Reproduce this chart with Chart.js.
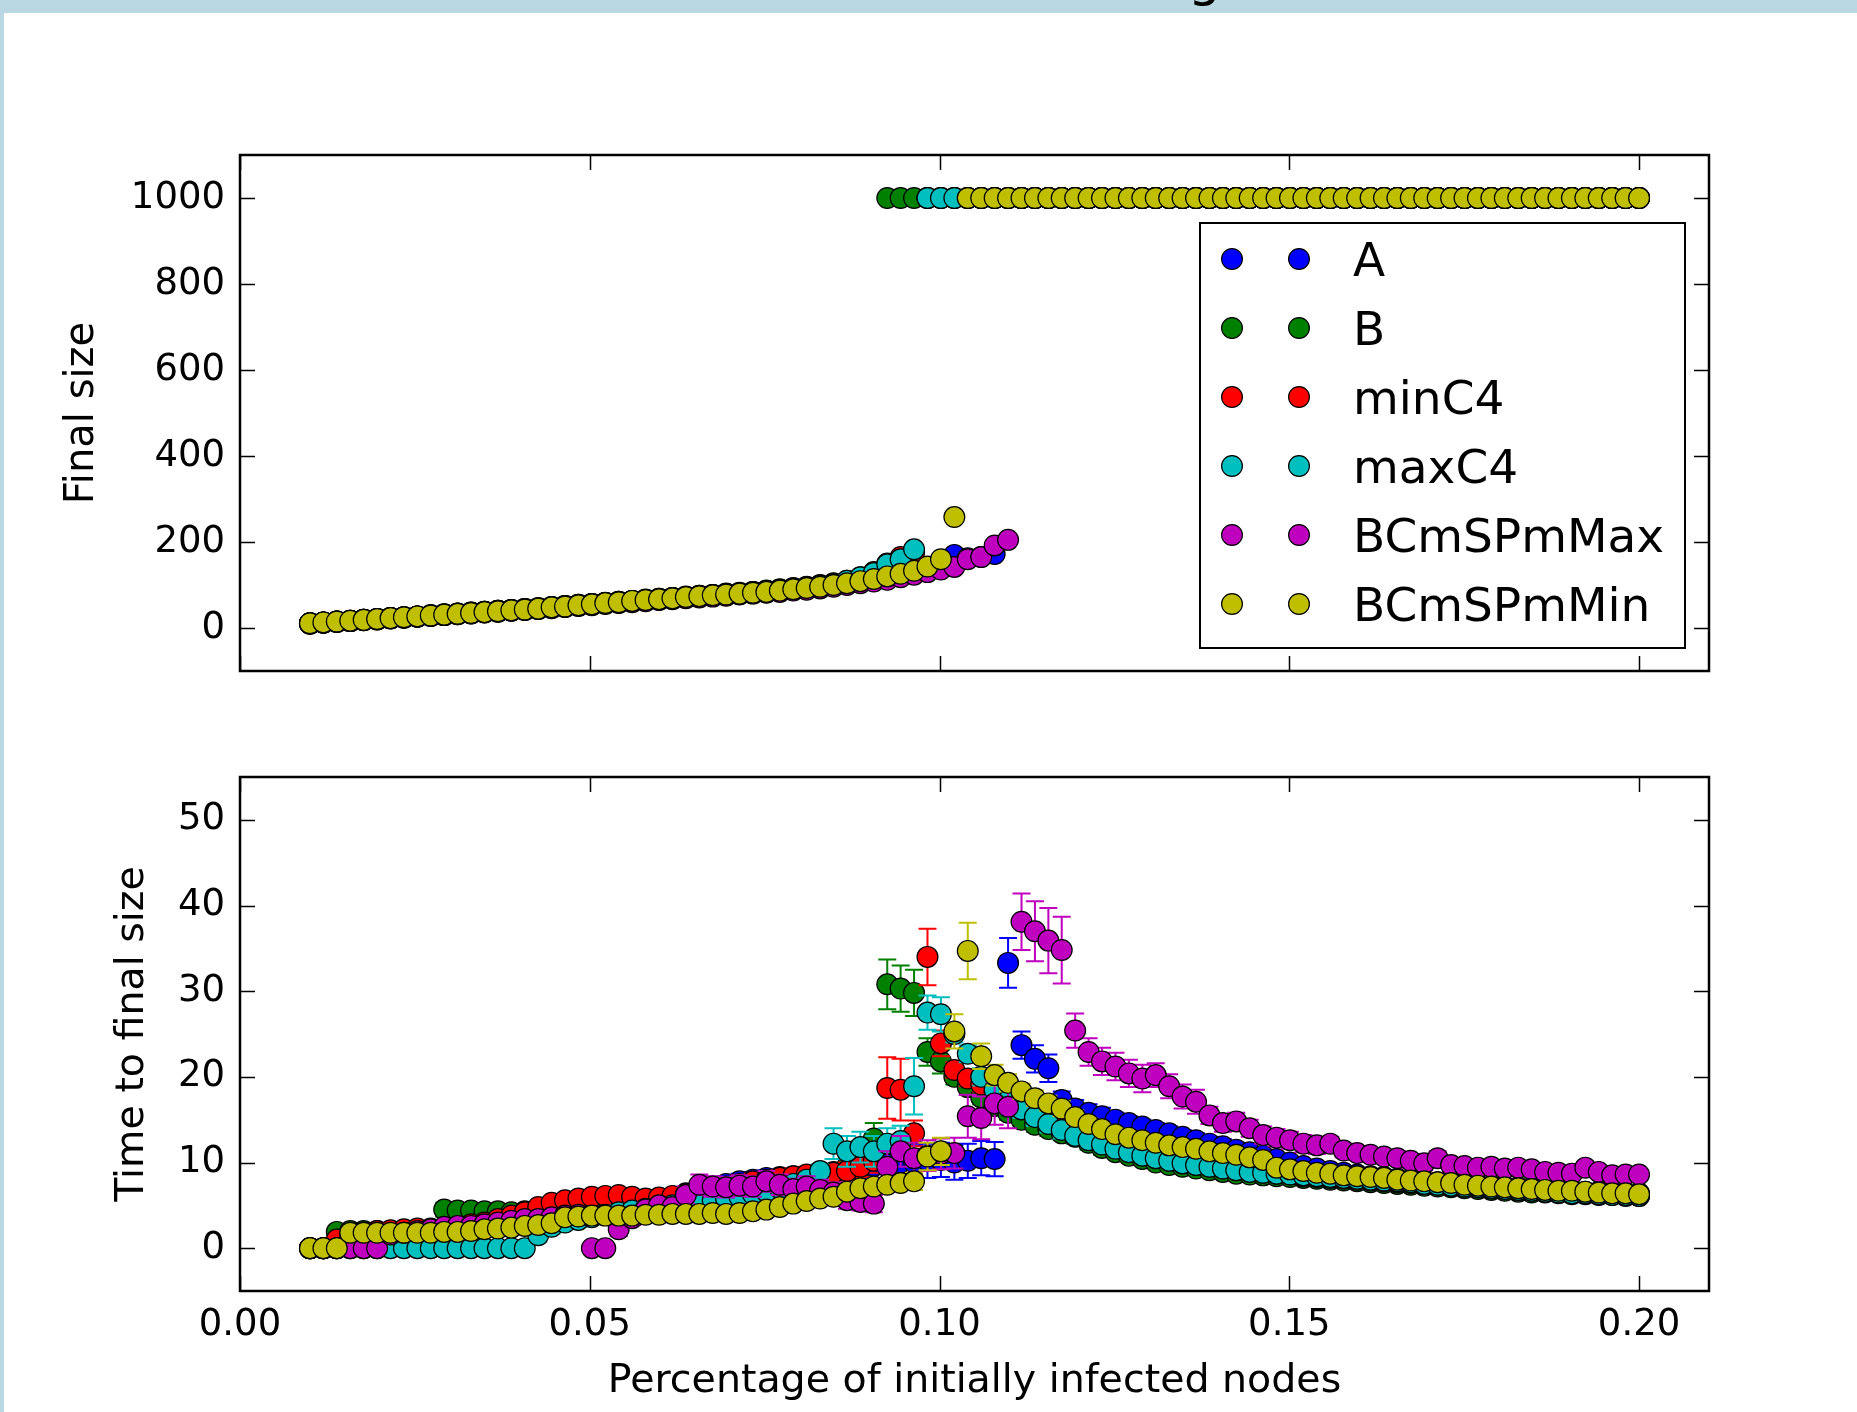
<!DOCTYPE html>
<html>
<head>
<meta charset="utf-8">
<title>Final size and time to final size</title>
<script src="https://cdn.jsdelivr.net/npm/chart.js@4.4.1/dist/chart.umd.min.js"></script>
<style>
  html, body { margin: 0; padding: 0; background: #fff; }
  body { width: 1857px; height: 1412px; position: relative; overflow: hidden; font-family: 'DejaVu Sans', sans-serif; }
  .strip-top { position: absolute; left: 0; top: 0; width: 1857px; height: 13px; background: #bad8e4; }
  .strip-left { position: absolute; left: 0; top: 0; width: 4px; height: 1412px; background: #bad8e4; }
  .cut-text { position: absolute; left: 1188px; top: -49px; font-size: 52px; line-height: 52px; color: #000; }
  canvas { position: absolute; left: 0; }
  #finalChart { top: 0; width: 1857px; height: 720px; }
  #timeChart { top: 720px; width: 1857px; height: 692px; }
</style>
</head>
<body>
<div class="strip-top"></div>
<div class="strip-left"></div>
<div class="cut-text">g</div>
<canvas id="finalChart" width="1857" height="720"></canvas>
<canvas id="timeChart" width="1857" height="692"></canvas>
<script>
// share of initially infected nodes (100 runs, 0.01 .. 0.20)
var X_VALUES = [
  0.01, 0.01192, 0.01384, 0.01576, 0.01768, 0.0196, 0.02152, 0.02343, 0.02535, 0.02727,
  0.02919, 0.03111, 0.03303, 0.03495, 0.03687, 0.03879, 0.04071, 0.04263, 0.04455, 0.04646,
  0.04838, 0.0503, 0.05222, 0.05414, 0.05606, 0.05798, 0.0599, 0.06182, 0.06374, 0.06566,
  0.06758, 0.06949, 0.07141, 0.07333, 0.07525, 0.07717, 0.07909, 0.08101, 0.08293, 0.08485,
  0.08677, 0.08869, 0.09061, 0.09253, 0.09444, 0.09636, 0.09828, 0.1002, 0.10212, 0.10404,
  0.10596, 0.10788, 0.1098, 0.11172, 0.11364, 0.11556, 0.11747, 0.11939, 0.12131, 0.12323,
  0.12515, 0.12707, 0.12899, 0.13091, 0.13283, 0.13475, 0.13667, 0.13859, 0.14051, 0.14242,
  0.14434, 0.14626, 0.14818, 0.1501, 0.15202, 0.15394, 0.15586, 0.15778, 0.1597, 0.16162,
  0.16354, 0.16545, 0.16737, 0.16929, 0.17121, 0.17313, 0.17505, 0.17697, 0.17889, 0.18081,
  0.18273, 0.18465, 0.18657, 0.18848, 0.1904, 0.19232, 0.19424, 0.19616, 0.19808, 0.2
];

var SERIES_NAMES = ['A', 'B', 'minC4', 'maxC4', 'BCmSPmMax', 'BCmSPmMin'];
var SERIES_COLORS = ['#0000ff', '#008000', '#ff0000', '#00bfbf', '#bf00bf', '#bfbf00'];

var X_TICKS = [0, 0.05, 0.10, 0.15, 0.20];
var FINAL_TICKS = [0, 200, 400, 600, 800, 1000];
var TIME_TICKS = [0, 10, 20, 30, 40, 50];

//--------------
//- FINAL SIZE -
//--------------
var FINAL_A = [
  10, 12, 14, 16, 18, 20, 22, 24, 26, 28,
  30, 32, 34, 36, 38, 40, 42, 44, 47, 49,
  52, 54, 57, 59, 62, 64, 66, 68, 71, 73,
  75, 77, 79, 81, 83, 86, 89, 92, 95, 99,
  103, 107, 112, 117, 124, 130, 140, 155, 170, 162,
  165, 172, 1000, 1000, 1000, 1000, 1000, 1000, 1000, 1000,
  1000, 1000, 1000, 1000, 1000, 1000, 1000, 1000, 1000, 1000,
  1000, 1000, 1000, 1000, 1000, 1000, 1000, 1000, 1000, 1000,
  1000, 1000, 1000, 1000, 1000, 1000, 1000, 1000, 1000, 1000,
  1000, 1000, 1000, 1000, 1000, 1000, 1000, 1000, 1000, 1000
];
var FINAL_B = [
  11, 13, 15, 17, 19, 21, 23, 25, 27, 30,
  32, 34, 36, 38, 40, 42, 44, 46, 49, 51,
  54, 56, 58, 61, 63, 65, 68, 70, 72, 75,
  77, 79, 81, 84, 86, 89, 92, 95, 98, 102,
  106, 114, 126, 1000, 1000, 1000, 1000, 1000, 1000, 1000,
  1000, 1000, 1000, 1000, 1000, 1000, 1000, 1000, 1000, 1000,
  1000, 1000, 1000, 1000, 1000, 1000, 1000, 1000, 1000, 1000,
  1000, 1000, 1000, 1000, 1000, 1000, 1000, 1000, 1000, 1000,
  1000, 1000, 1000, 1000, 1000, 1000, 1000, 1000, 1000, 1000,
  1000, 1000, 1000, 1000, 1000, 1000, 1000, 1000, 1000, 1000
];
var FINAL_MINC4 = [
  11, 13, 15, 17, 19, 21, 23, 25, 27, 29,
  32, 34, 36, 38, 40, 42, 44, 46, 49, 51,
  54, 56, 59, 61, 63, 66, 68, 70, 73, 75,
  77, 80, 82, 84, 87, 90, 93, 96, 100, 104,
  110, 118, 130, 150, 165, 175, 1000, 1000, 1000, 1000,
  1000, 1000, 1000, 1000, 1000, 1000, 1000, 1000, 1000, 1000,
  1000, 1000, 1000, 1000, 1000, 1000, 1000, 1000, 1000, 1000,
  1000, 1000, 1000, 1000, 1000, 1000, 1000, 1000, 1000, 1000,
  1000, 1000, 1000, 1000, 1000, 1000, 1000, 1000, 1000, 1000,
  1000, 1000, 1000, 1000, 1000, 1000, 1000, 1000, 1000, 1000
];
var FINAL_MAXC4 = [
  11, 13, 15, 17, 19, 21, 23, 25, 27, 29,
  31, 33, 35, 38, 40, 42, 44, 46, 48, 51,
  53, 56, 58, 60, 63, 65, 67, 70, 72, 74,
  77, 79, 81, 84, 86, 89, 92, 95, 99, 103,
  110, 118, 128, 148, 160, 183, 1000, 1000, 1000, 1000,
  1000, 1000, 1000, 1000, 1000, 1000, 1000, 1000, 1000, 1000,
  1000, 1000, 1000, 1000, 1000, 1000, 1000, 1000, 1000, 1000,
  1000, 1000, 1000, 1000, 1000, 1000, 1000, 1000, 1000, 1000,
  1000, 1000, 1000, 1000, 1000, 1000, 1000, 1000, 1000, 1000,
  1000, 1000, 1000, 1000, 1000, 1000, 1000, 1000, 1000, 1000
];
var FINAL_BCMAX = [
  10, 12, 14, 16, 18, 20, 22, 24, 26, 28,
  30, 32, 34, 36, 38, 40, 42, 44, 46, 49,
  51, 53, 56, 58, 60, 62, 65, 67, 69, 71,
  73, 75, 78, 80, 82, 84, 87, 89, 92, 96,
  100, 104, 108, 112, 118, 124, 130, 136, 142, 160,
  165, 192, 205, 1000, 1000, 1000, 1000, 1000, 1000, 1000,
  1000, 1000, 1000, 1000, 1000, 1000, 1000, 1000, 1000, 1000,
  1000, 1000, 1000, 1000, 1000, 1000, 1000, 1000, 1000, 1000,
  1000, 1000, 1000, 1000, 1000, 1000, 1000, 1000, 1000, 1000,
  1000, 1000, 1000, 1000, 1000, 1000, 1000, 1000, 1000, 1000
];
var FINAL_BCMIN = [
  11, 13, 15, 17, 19, 21, 23, 25, 27, 29,
  31, 33, 35, 37, 39, 41, 43, 45, 48, 50,
  53, 55, 58, 60, 63, 65, 67, 69, 72, 74,
  76, 78, 80, 82, 84, 87, 90, 93, 96, 100,
  104, 109, 114, 120, 126, 133, 143, 160, 258, 1000,
  1000, 1000, 1000, 1000, 1000, 1000, 1000, 1000, 1000, 1000,
  1000, 1000, 1000, 1000, 1000, 1000, 1000, 1000, 1000, 1000,
  1000, 1000, 1000, 1000, 1000, 1000, 1000, 1000, 1000, 1000,
  1000, 1000, 1000, 1000, 1000, 1000, 1000, 1000, 1000, 1000,
  1000, 1000, 1000, 1000, 1000, 1000, 1000, 1000, 1000, 1000
];

//------------------------
//- TIME TO FINAL SIZE   -
//------------------------
var TIME_A = [
  0, 0, 0, 0.5, 1.0, 1.4, 1.6, 1.8, 2.0, 2.2,
  2.4, 2.6, 2.8, 3.0, 3.2, 3.4, 3.6, 3.8, 4.0, 4.2,
  4.4, 4.6, 4.8, 5.0, 5.2, 5.4, 5.7, 6.0, 6.4, 6.8,
  7.2, 7.5, 7.8, 8.0, 8.2, 8.3, 8.4, 8.5, 8.6, 8.8,
  9.0, 9.3, 9.6, 9.8, 10.0, 10.0, 10.2, 10.3, 10.0, 10.2,
  10.5, 10.4, 33.3, 23.7, 22.1, 21.0, 17.3, 16.3, 15.8, 15.4,
  15.0, 14.6, 14.2, 13.8, 13.4, 13.0, 12.6, 12.2, 11.9, 11.5,
  11.2, 10.8, 10.4, 10.0, 9.6, 9.3, 9.0, 8.8, 8.6, 8.4,
  8.3, 8.1, 8.0, 7.9, 7.7, 7.6, 7.5, 7.4, 7.3, 7.2,
  7.1, 7.0, 6.9, 6.8, 6.7, 6.6, 6.6, 6.5, 6.4, 6.4
];
var ERR_A = [
  0, 0, 0, 0.4, 0.5, 0.5, 0.5, 0.5, 0.5, 0.5,
  0.5, 0.5, 0.5, 0.5, 0.5, 0.5, 0.5, 0.5, 0.5, 0.5,
  0.6, 0.6, 0.6, 0.6, 0.6, 0.6, 0.6, 0.6, 0.6, 0.6,
  0.9, 0.9, 0.9, 0.9, 0.9, 0.9, 0.9, 0.9, 0.9, 0.9,
  1.0, 1.2, 1.5, 2.0, 2.0, 2.0, 2.0, 2.0, 2.0, 2.0,
  2.0, 2.0, 2.9, 1.6, 1.6, 1.6, 1.0, 1.0, 1.0, 1.0,
  0.8, 0.8, 0.8, 0.8, 0.8, 0.8, 0.8, 0.8, 0.8, 0.8,
  0.6, 0.6, 0.6, 0.6, 0.6, 0.6, 0.6, 0.6, 0.6, 0.6,
  0.4, 0.4, 0.4, 0.4, 0.4, 0.4, 0.4, 0.4, 0.4, 0.4,
  0.4, 0.4, 0.4, 0.4, 0.4, 0.4, 0.4, 0.4, 0.4, 0.4
];
var TIME_B = [
  0, 0, 1.9, 2.0, 2.0, 2.0, 2.0, 2.1, 2.1, 2.2,
  4.5, 4.4, 4.4, 4.3, 4.3, 4.2, 4.3, 4.2, 4.0, 4.2,
  4.4, 4.6, 4.8, 5.0, 5.2, 5.4, 5.6, 5.8, 6.0, 6.3,
  6.6, 6.9, 7.2, 7.5, 7.8, 8.0, 8.2, 8.4, 8.6, 8.9,
  9.5, 11.0, 12.8, 30.8, 30.3, 29.8, 22.9, 21.8, 20.0, 18.8,
  17.6, 16.6, 15.8, 15.0, 14.4, 13.9, 13.4, 13.0, 12.3, 11.7,
  11.2, 10.8, 10.4, 10.0, 9.7, 9.5, 9.3, 9.1, 8.9, 8.7,
  8.6, 8.5, 8.4, 8.3, 8.2, 8.1, 8.0, 7.9, 7.8, 7.7,
  7.6, 7.5, 7.4, 7.3, 7.2, 7.1, 7.0, 6.9, 6.8, 6.7,
  6.6, 6.5, 6.5, 6.4, 6.3, 6.3, 6.2, 6.2, 6.1, 6.1
];
var ERR_B = [
  0, 0, 0.4, 0.4, 0.4, 0.4, 0.4, 0.4, 0.4, 0.4,
  0.8, 0.8, 0.8, 0.8, 0.8, 0.8, 0.8, 0.8, 0.8, 0.8,
  0.8, 0.8, 0.8, 0.8, 0.8, 0.8, 0.8, 0.8, 0.8, 0.8,
  0.9, 0.9, 0.9, 0.9, 0.9, 0.9, 0.9, 0.9, 0.9, 0.9,
  1.2, 1.5, 1.8, 2.9, 2.7, 2.7, 1.6, 1.4, 0.9, 0.9,
  0.8, 0.8, 0.8, 0.8, 0.8, 0.8, 0.8, 0.8, 0.8, 0.8,
  0.4, 0.4, 0.4, 0.4, 0.4, 0.4, 0.4, 0.4, 0.4, 0.4,
  0.4, 0.4, 0.4, 0.4, 0.4, 0.4, 0.4, 0.4, 0.4, 0.4,
  0.4, 0.4, 0.4, 0.4, 0.4, 0.4, 0.4, 0.4, 0.4, 0.4,
  0.4, 0.4, 0.4, 0.4, 0.4, 0.4, 0.4, 0.4, 0.4, 0.4
];
var TIME_MINC4 = [
  0, 0, 1.0, 1.5, 1.8, 2.0, 2.1, 2.2, 2.3, 2.3,
  2.4, 2.5, 2.8, 3.0, 3.4, 3.8, 4.2, 4.8, 5.3, 5.6,
  5.8, 6.0, 6.1, 6.2, 6.0, 5.8, 5.9, 6.1, 6.3, 6.6,
  7.0, 7.2, 7.5, 7.8, 8.0, 8.2, 8.4, 8.6, 8.7, 8.8,
  9.0, 9.5, 10.2, 18.7, 18.5, 13.4, 34.0, 23.9, 20.8, 19.8,
  19.1, 18.2, 17.2, 16.3, 15.5, 14.8, 14.2, 13.6, 12.9, 12.3,
  11.8, 11.3, 10.9, 10.5, 10.2, 9.9, 9.7, 9.5, 9.3, 9.1,
  9.0, 8.8, 8.7, 8.6, 8.4, 8.3, 8.2, 8.1, 8.0, 7.9,
  7.8, 7.7, 7.6, 7.5, 7.4, 7.3, 7.2, 7.1, 7.0, 6.9,
  6.8, 6.7, 6.6, 6.5, 6.4, 6.4, 6.3, 6.3, 6.2, 6.2
];
var ERR_MINC4 = [
  0, 0, 0.5, 0.5, 0.5, 0.5, 0.5, 0.5, 0.5, 0.5,
  0.5, 0.5, 0.5, 0.5, 0.5, 0.5, 0.5, 0.5, 0.5, 0.5,
  0.8, 0.8, 0.8, 0.8, 0.8, 0.8, 0.8, 0.8, 0.8, 0.8,
  0.9, 0.9, 0.9, 0.9, 0.9, 0.9, 0.9, 0.9, 0.9, 0.9,
  1.0, 1.2, 1.4, 3.6, 3.6, 1.5, 3.3, 1.5, 0.9, 0.9,
  0.8, 0.8, 0.8, 0.8, 0.8, 0.8, 0.8, 0.8, 0.8, 0.8,
  0.4, 0.4, 0.4, 0.4, 0.4, 0.4, 0.4, 0.4, 0.4, 0.4,
  0.4, 0.4, 0.4, 0.4, 0.4, 0.4, 0.4, 0.4, 0.4, 0.4,
  0.4, 0.4, 0.4, 0.4, 0.4, 0.4, 0.4, 0.4, 0.4, 0.4,
  0.4, 0.4, 0.4, 0.4, 0.4, 0.4, 0.4, 0.4, 0.4, 0.4
];
var TIME_MAXC4 = [
  0, 0, 0, 0, 0, 0, 0, 0, 0, 0,
  0, 0, 0, 0, 0, 0, 0, 1.5, 2.5, 3.0,
  3.3, 3.6, 3.9, 4.2, 4.4, 4.6, 4.8, 5.0, 5.2, 5.4,
  5.6, 5.8, 6.0, 6.3, 6.6, 7.0, 7.5, 8.0, 9.0, 12.2,
  11.3, 11.8, 11.3, 12.2, 12.5, 18.9, 27.5, 27.3, 25.0, 22.7,
  20.0, 18.5, 17.2, 16.2, 15.3, 14.5, 13.8, 13.1, 12.6, 12.1,
  11.6, 11.2, 10.8, 10.5, 10.2, 9.9, 9.7, 9.5, 9.3, 9.1,
  8.9, 8.8, 8.7, 8.6, 8.5, 8.4, 8.3, 8.2, 8.1, 8.0,
  7.9, 7.8, 7.7, 7.5, 7.4, 7.3, 7.2, 7.1, 7.0, 6.9,
  6.8, 6.7, 6.6, 6.5, 6.4, 6.4, 6.3, 6.2, 6.2, 6.1
];
var ERR_MAXC4 = [
  0.2, 0.2, 0.2, 0.2, 0.2, 0.2, 0.2, 0.2, 0.2, 0.2,
  0.2, 0.2, 0.2, 0.2, 0.2, 0.2, 0.2, 0.8, 0.8, 0.8,
  0.8, 0.8, 0.8, 0.8, 0.8, 0.8, 0.8, 0.8, 0.8, 0.8,
  0.8, 0.8, 0.8, 0.8, 0.8, 0.8, 0.8, 0.8, 0.8, 1.8,
  1.8, 1.8, 1.8, 1.8, 1.8, 3.3, 2.0, 2.0, 1.0, 1.0,
  1.0, 1.0, 1.0, 1.0, 1.0, 1.0, 1.0, 0.4, 0.4, 0.4,
  0.4, 0.4, 0.4, 0.4, 0.4, 0.4, 0.4, 0.4, 0.4, 0.4,
  0.4, 0.4, 0.4, 0.4, 0.4, 0.4, 0.4, 0.4, 0.4, 0.4,
  0.4, 0.4, 0.4, 0.4, 0.4, 0.4, 0.4, 0.4, 0.4, 0.4,
  0.4, 0.4, 0.4, 0.4, 0.4, 0.4, 0.4, 0.4, 0.4, 0.4
];
var TIME_BCMAX = [
  0, 0, 0, 0, 0, 0, 1.6, 1.8, 2.0, 2.2,
  2.5, 2.6, 2.6, 2.8, 3.0, 3.2, 3.4, 3.4, 3.6, 3.8,
  3.9, 0, 0, 2.2, 3.5, 4.5, 5.0, 4.8, 6.2, 7.4,
  7.2, 7.1, 7.3, 7.2, 7.8, 7.4, 6.9, 7.2, 6.8, 6.5,
  5.6, 5.4, 5.2, 9.5, 11.3, 10.5, 10.8, 11.0, 11.1, 15.4,
  15.2, 16.9, 16.5, 38.1, 37.0, 35.9, 34.8, 25.4, 22.9, 21.8,
  21.2, 20.4, 19.8, 20.2, 18.9, 17.7, 17.1, 15.5, 14.6, 14.8,
  14.0, 13.2, 12.9, 12.6, 12.2, 12.0, 12.2, 11.4, 11.1, 10.9,
  10.7, 10.5, 10.2, 9.9, 10.5, 9.7, 9.6, 9.4, 9.5, 9.3,
  9.4, 9.2, 8.9, 8.8, 8.7, 9.4, 8.9, 8.5, 8.6, 8.6
];
var ERR_BCMAX = [
  0.3, 0.3, 0.3, 0.3, 0.3, 0.3, 0.6, 0.6, 0.6, 0.6,
  0.6, 0.6, 0.6, 0.6, 0.6, 0.6, 0.6, 0.6, 0.6, 0.6,
  0.6, 0.4, 0.4, 0.8, 0.8, 0.8, 0.8, 0.8, 1.0, 1.2,
  1.2, 1.2, 1.2, 1.2, 1.2, 1.2, 1.2, 1.2, 1.2, 1.2,
  1.0, 1.0, 1.0, 1.8, 1.8, 1.8, 1.8, 1.8, 1.8, 2.5,
  2.5, 2.5, 2.5, 3.3, 3.5, 3.8, 3.9, 2.0, 1.6, 1.6,
  1.6, 1.6, 1.6, 1.4, 1.4, 1.4, 1.4, 1.0, 1.0, 1.0,
  1.0, 1.0, 1.0, 1.0, 1.0, 1.0, 0.8, 0.8, 0.8, 0.8,
  0.8, 0.8, 0.8, 0.8, 0.8, 0.8, 0.6, 0.6, 0.6, 0.6,
  0.6, 0.6, 0.6, 0.6, 0.6, 0.6, 0.6, 0.6, 0.6, 0.6
];
var TIME_BCMIN = [
  0, 0, 0, 1.8, 1.8, 1.8, 1.8, 1.8, 1.8, 1.8,
  1.9, 1.9, 2.0, 2.2, 2.3, 2.4, 2.6, 2.7, 2.9, 3.6,
  3.7, 3.8, 3.8, 3.8, 3.8, 3.9, 3.9, 4.0, 4.0, 4.0,
  4.1, 4.0, 4.1, 4.3, 4.5, 4.8, 5.2, 5.5, 5.8, 6.0,
  6.6, 7.0, 7.2, 7.4, 7.6, 7.8, 10.7, 11.3, 25.3, 34.7,
  22.4, 20.2, 19.3, 18.3, 17.5, 16.9, 16.3, 15.3, 14.5, 13.9,
  13.3, 12.9, 12.6, 12.3, 12.0, 11.8, 11.6, 11.3, 11.1, 10.9,
  10.6, 10.3, 9.4, 9.2, 9.0, 8.8, 8.7, 8.5, 8.4, 8.3,
  8.2, 8.0, 7.9, 7.8, 7.7, 7.6, 7.4, 7.3, 7.2, 7.1,
  7.0, 6.9, 6.8, 6.7, 6.7, 6.6, 6.5, 6.4, 6.4, 6.3
];
var ERR_BCMIN = [
  0, 0, 0, 0.4, 0.4, 0.4, 0.4, 0.4, 0.4, 0.4,
  0.4, 0.4, 0.4, 0.4, 0.4, 0.4, 0.4, 0.4, 0.4, 0.4,
  0.5, 0.5, 0.5, 0.5, 0.5, 0.5, 0.5, 0.5, 0.5, 0.5,
  0.6, 0.6, 0.6, 0.6, 0.6, 0.6, 0.6, 0.6, 0.6, 0.6,
  0.6, 0.6, 0.6, 0.6, 0.8, 1.0, 1.6, 1.6, 2.0, 3.3,
  1.5, 1.2, 1.0, 0.9, 0.9, 0.9, 0.9, 0.8, 0.7, 0.7,
  0.7, 0.7, 0.7, 0.7, 0.7, 0.7, 0.7, 0.7, 0.7, 0.7,
  0.5, 0.5, 0.5, 0.5, 0.5, 0.5, 0.5, 0.5, 0.5, 0.5,
  0.4, 0.4, 0.4, 0.4, 0.4, 0.4, 0.4, 0.4, 0.4, 0.4,
  0.4, 0.4, 0.4, 0.4, 0.4, 0.4, 0.4, 0.4, 0.4, 0.4
];

var FINAL_SERIES = [FINAL_A, FINAL_B, FINAL_MINC4, FINAL_MAXC4, FINAL_BCMAX, FINAL_BCMIN];
var TIME_SERIES = [TIME_A, TIME_B, TIME_MINC4, TIME_MAXC4, TIME_BCMAX, TIME_BCMIN];
var TIME_ERRORS = [ERR_A, ERR_B, ERR_MINC4, ERR_MAXC4, ERR_BCMAX, ERR_BCMIN];

var MARKER_RADIUS = 10.4;

Chart.defaults.font.family = "'DejaVu Sans', sans-serif";
Chart.defaults.color = '#000';

function toPoints(ys) {
  return X_VALUES.map(function(x, i) { return {x: x, y: ys[i]}; });
}

function buildDatasets(valueLists, errorLists) {
  return SERIES_NAMES.map(function(name, i) {
    return {
      label: name,
      data: toPoints(valueLists[i]),
      errors: errorLists ? errorLists[i] : null,
      errorColor: SERIES_COLORS[i],
      showLine: false,
      pointRadius: MARKER_RADIUS,
      pointHoverRadius: MARKER_RADIUS,
      pointBorderWidth: 1.2,
      pointBackgroundColor: SERIES_COLORS[i],
      pointBorderColor: '#000',
      backgroundColor: SERIES_COLORS[i],
      borderColor: '#000',
      // later series are painted on top, like matplotlib
      order: SERIES_NAMES.length - i
    };
  });
}

// error bars go under the markers of their own series
var errorBarPlugin = {
  id: 'errorBars',
  beforeDatasetDraw: function(chart, args) {
    var ds = chart.data.datasets[args.index];
    if (!ds.errors) return;
    var xs = chart.scales.x, ys = chart.scales.y, ctx = chart.ctx, a = chart.chartArea;
    ctx.save();
    ctx.beginPath();
    ctx.rect(a.left, a.top, a.right - a.left, a.bottom - a.top);
    ctx.clip();
    ctx.strokeStyle = ds.errorColor;
    ctx.lineWidth = 2;
    ctx.beginPath();
    ds.data.forEach(function(p, i) {
      var e = ds.errors[i];
      if (!e) return;
      var px = xs.getPixelForValue(p.x);
      var top = ys.getPixelForValue(p.y + e);
      var bot = ys.getPixelForValue(p.y - e);
      ctx.moveTo(px, top); ctx.lineTo(px, bot);
      ctx.moveTo(px - 9, top); ctx.lineTo(px + 9, top);
      ctx.moveTo(px - 9, bot); ctx.lineTo(px + 9, bot);
    });
    ctx.stroke();
    ctx.restore();
  }
};

// box around the plot with inward tick marks on all four sides
var framePlugin = {
  id: 'frame',
  afterDatasetsDraw: function(chart) {
    var ctx = chart.ctx, a = chart.chartArea;
    var xs = chart.scales.x, ys = chart.scales.y;
    var len = 15;
    ctx.save();
    ctx.strokeStyle = '#000';
    ctx.lineWidth = 1.5;
    ctx.beginPath();
    xs.ticks.forEach(function(t) {
      var px = Math.round(xs.getPixelForValue(t.value)) + 0.5;
      ctx.moveTo(px, a.top); ctx.lineTo(px, a.top + len);
      ctx.moveTo(px, a.bottom); ctx.lineTo(px, a.bottom - len);
    });
    ys.ticks.forEach(function(t) {
      var py = Math.round(ys.getPixelForValue(t.value)) + 0.5;
      ctx.moveTo(a.left, py); ctx.lineTo(a.left + len, py);
      ctx.moveTo(a.right, py); ctx.lineTo(a.right - len, py);
    });
    ctx.stroke();
    ctx.lineWidth = 2.5;
    ctx.strokeRect(a.left, a.top, a.right - a.left, a.bottom - a.top);
    ctx.restore();
  }
};

// matplotlib style legend: framed box, two markers per entry
var legendPlugin = {
  id: 'boxLegend',
  afterDraw: function(chart) {
    var ctx = chart.ctx, a = chart.chartArea;
    var left = a.right - 509, top = a.top + 68, w = 485, h = 425;
    ctx.save();
    ctx.fillStyle = '#fff';
    ctx.fillRect(left, top, w, h);
    ctx.lineWidth = 2;
    ctx.strokeStyle = '#000';
    ctx.strokeRect(left, top, w, h);
    ctx.font = "47px 'DejaVu Sans', sans-serif";
    ctx.textBaseline = 'alphabetic';
    chart.data.datasets.forEach(function(ds, i) {
      var y = top + 36 + i * 69;
      [32, 99].forEach(function(dx) {
        ctx.beginPath();
        ctx.arc(left + dx, y, MARKER_RADIUS, 0, Math.PI * 2);
        ctx.fillStyle = ds.pointBackgroundColor;
        ctx.fill();
        ctx.lineWidth = 1.2;
        ctx.strokeStyle = '#000';
        ctx.stroke();
      });
      ctx.fillStyle = '#000';
      ctx.fillText(ds.label, left + 153, y + 17);
    });
    ctx.restore();
  }
};

function fixedTicks(list) {
  return function(scale) {
    scale.ticks = list.map(function(v) { return {value: v}; });
  };
}

function initFinalChart() {
  //--------------
  //- TOP PANEL  -
  //--------------
  new Chart(document.getElementById('finalChart'), {
    type: 'scatter',
    data: { datasets: buildDatasets(FINAL_SERIES, null) },
    options: {
      responsive: false,
      animation: false,
      events: [],
      devicePixelRatio: 1,
      layout: { padding: { left: 0, right: 148, top: 155, bottom: 0 } },
      plugins: { legend: { display: false }, tooltip: { enabled: false } },
      scales: {
        x: {
          type: 'linear', min: 0, max: 0.21,
          grid: { display: false, drawTicks: false },
          border: { display: false },
          ticks: { display: false },
          afterBuildTicks: fixedTicks(X_TICKS),
          afterFit: function(s) { s.height = 49; }
        },
        y: {
          type: 'linear', min: -100, max: 1100,
          grid: { display: false, drawTicks: false },
          border: { display: false },
          ticks: {
            color: '#000', font: { size: 37 }, padding: 15, autoSkip: false,
            callback: function(v) { return String(v); }
          },
          afterBuildTicks: fixedTicks(FINAL_TICKS),
          afterFit: function(s) { s.width = 240; },
          title: {
            display: true, text: 'Final size', color: '#000',
            font: { size: 40 }, padding: { top: 59, bottom: 0 }
          }
        }
      }
    },
    plugins: [errorBarPlugin, framePlugin, legendPlugin]
  });
}

function initTimeChart() {
  //----------------
  //- BOTTOM PANEL -
  //----------------
  new Chart(document.getElementById('timeChart'), {
    type: 'scatter',
    data: { datasets: buildDatasets(TIME_SERIES, TIME_ERRORS) },
    options: {
      responsive: false,
      animation: false,
      events: [],
      devicePixelRatio: 1,
      layout: { padding: { left: 0, right: 148, top: 57, bottom: 0 } },
      plugins: { legend: { display: false }, tooltip: { enabled: false } },
      scales: {
        x: {
          type: 'linear', min: 0, max: 0.21,
          grid: { display: false, drawTicks: false },
          border: { display: false },
          ticks: {
            color: '#000', font: { size: 37 }, padding: 12, autoSkip: false, maxRotation: 0,
            callback: function(v) { return Number(v).toFixed(2); }
          },
          afterBuildTicks: fixedTicks(X_TICKS),
          afterFit: function(s) { s.height = 121; },
          title: {
            display: true, text: 'Percentage of initially infected nodes', color: '#000',
            font: { size: 39.5 }, padding: { top: 0, bottom: 7 }
          }
        },
        y: {
          type: 'linear', min: -5, max: 55,
          grid: { display: false, drawTicks: false },
          border: { display: false },
          ticks: {
            color: '#000', font: { size: 37 }, padding: 15, autoSkip: false,
            callback: function(v) { return String(v); }
          },
          afterBuildTicks: fixedTicks(TIME_TICKS),
          afterFit: function(s) { s.width = 240; },
          title: {
            display: true, text: 'Time to final size', color: '#000',
            font: { size: 39.5 }, padding: { top: 109, bottom: 0 }
          }
        }
      }
    },
    plugins: [errorBarPlugin, framePlugin]
  });
}

initFinalChart();
initTimeChart();
</script>
</body>
</html>
